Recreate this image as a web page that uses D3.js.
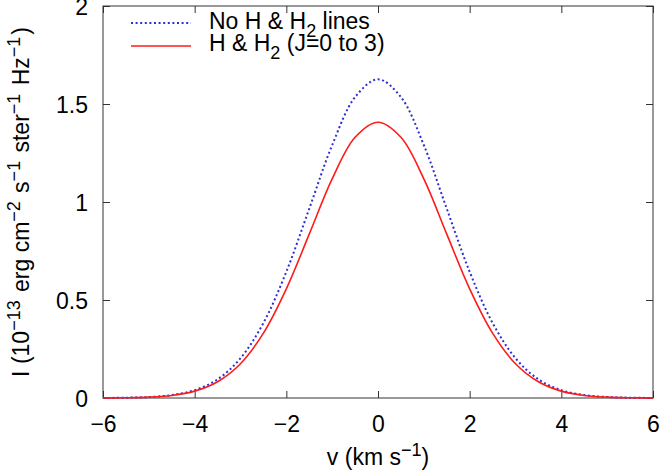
<!DOCTYPE html>
<html>
<head>
<meta charset="utf-8">
<script src="https://cdn.jsdelivr.net/npm/d3@7"></script>
<style>
  body { margin: 0; background: #fff; }
  text { font-family: "Liberation Sans", Arial, sans-serif; fill: #000; }
</style>
</head>
<body>
<div id="chart"></div>
<script>

// velocity grid (km/s)
var velocity = [-6, -5.5, -5, -4.5, -4, -3.5, -3, -2.5, -2, -1.5, -1, -0.5, 0,
                0.5, 1, 1.5, 2, 2.5, 3, 3.5, 4, 4.5, 5, 5.5, 6];

// no H & H2 lines (blue dotted)
var noLines = [0.0003, 0.0015, 0.005, 0.015, 0.040, 0.095, 0.203, 0.383, 0.644, 0.966, 1.290, 1.535, 1.626,
               1.535, 1.290, 0.966, 0.644, 0.383, 0.203, 0.095, 0.040, 0.015, 0.005, 0.0015, 0.0003];

// H & H2 (J=0 to 3) (red solid)
var withLines = [0.0003, 0.0013, 0.0045, 0.013, 0.035, 0.083, 0.175, 0.331, 0.557, 0.836, 1.118, 1.330, 1.407,
                 1.330, 1.118, 0.836, 0.557, 0.331, 0.175, 0.083, 0.035, 0.013, 0.0045, 0.0013, 0.0003];

var xTicks = [-6, -4, -2, 0, 2, 4, 6];
var yTicks = [0, 0.5, 1, 1.5, 2];


var margin = {top: 6, right: 11, bottom: 72, left: 103};
var width = 664 - margin.left - margin.right,
    height = 470 - margin.top - margin.bottom;

var svg = d3.select("#chart").append("svg")
    .attr("width", 664)
    .attr("height", 470);

var g = svg.append("g")
    .attr("transform", "translate(" + margin.left + "," + margin.top + ")");

// scales
var x = d3.scaleLinear().domain([-6, 6]).range([0, width]);
var y = d3.scaleLinear().domain([0, 2]).range([height, 0]);

var fontSize = 23,
    smallSize = 18;

// axes, ticks pointing inwards, mirrored on top / right
var xAxis = d3.axisBottom(x).tickValues(xTicks).tickSizeInner(-7).tickSizeOuter(0)
    .tickFormat(function(d) { return d3.format("")(d).replace("-", "\u2212"); });
var yAxis = d3.axisLeft(y).tickValues(yTicks).tickSizeInner(-7).tickSizeOuter(0)
    .tickFormat(function(d) { return d; });

g.append("g")
    .attr("class", "x-axis")
    .attr("transform", "translate(0," + height + ")")
    .call(xAxis);

g.append("g")
    .attr("class", "y-axis")
    .call(yAxis);

g.append("g")
    .call(d3.axisTop(x).tickValues(xTicks).tickSizeInner(-7).tickSizeOuter(0).tickFormat(""));

g.append("g")
    .attr("transform", "translate(" + width + ",0)")
    .call(d3.axisRight(y).tickValues(yTicks).tickSizeInner(-7).tickSizeOuter(0).tickFormat(""));

g.selectAll(".domain").remove();
g.selectAll(".tick line").attr("stroke", "#333");

g.selectAll(".x-axis .tick text")
    .attr("y", 34)
    .attr("dy", 0)
    .style("font-size", fontSize + "px");

g.selectAll(".y-axis .tick text")
    .attr("x", -15)
    .attr("dy", "0.35em")
    .style("font-size", fontSize + "px");

// frame
g.append("rect")
    .attr("width", width)
    .attr("height", height)
    .attr("fill", "none")
    .attr("stroke", "#333")
    .attr("stroke-width", 1);

// curves
var line = function(values) {
    return d3.line()
        .x(function(d, i) { return x(velocity[i]); })
        .y(function(d) { return y(d); })
        .curve(d3.curveCatmullRom)(values);
};

g.append("path")
    .attr("d", line(noLines))
    .attr("fill", "none")
    .attr("stroke", "#2f2fd0")
    .attr("stroke-width", 2)
    .attr("stroke-dasharray", "2,2.6");

g.append("path")
    .attr("d", line(withLines))
    .attr("fill", "none")
    .attr("stroke", "#ff1a1a")
    .attr("stroke-width", 1.6);

// legend
var legend = svg.append("g");

legend.append("line")
    .attr("x1", 131).attr("x2", 191).attr("y1", 23).attr("y2", 23)
    .attr("stroke", "#2f2fd0").attr("stroke-width", 2).attr("stroke-dasharray", "2,2.6");
legend.append("line")
    .attr("x1", 131).attr("x2", 191).attr("y1", 46).attr("y2", 46)
    .attr("stroke", "#ff1a1a").attr("stroke-width", 1.6);

var t1 = legend.append("text").attr("x", 209).attr("y", 29).style("font-size", fontSize + "px");
t1.append("tspan").text("No H & H");
t1.append("tspan").attr("dy", 8).style("font-size", smallSize + "px").text("2");
t1.append("tspan").attr("dy", -8).text(" lines");

var t2 = legend.append("text").attr("x", 209).attr("y", 51).style("font-size", fontSize + "px");
t2.append("tspan").text("H & H");
t2.append("tspan").attr("dy", 8).style("font-size", smallSize + "px").text("2");
t2.append("tspan").attr("dy", -8).text(" (J=0 to 3)");

// x label
var xl = svg.append("text")
    .attr("x", margin.left + width / 2)
    .attr("y", 465)
    .attr("text-anchor", "middle")
    .style("font-size", fontSize + "px");
xl.append("tspan").text("v (km s");
xl.append("tspan").attr("dy", -9).style("font-size", smallSize + "px").text("\u22121");
xl.append("tspan").attr("dy", 9).text(")");

// y label
var yl = svg.append("text")
    .attr("transform", "translate(29," + (margin.top + height / 2) + ") rotate(-90)")
    .attr("text-anchor", "middle")
    .style("font-size", fontSize + "px");
var parts = [["I (10", "\u221213"], [" erg cm", "\u22122"], [" s", "\u22121"], [" ster", "\u22121"], [" Hz", "\u22121"]];
parts.forEach(function(p) {
    yl.append("tspan").text(p[0]);
    yl.append("tspan").attr("dy", -9).style("font-size", smallSize + "px").text(p[1]);
    yl.append("tspan").attr("dy", 9).text("\u200a");
});
yl.append("tspan").text(")");

</script>
</body>
</html>
